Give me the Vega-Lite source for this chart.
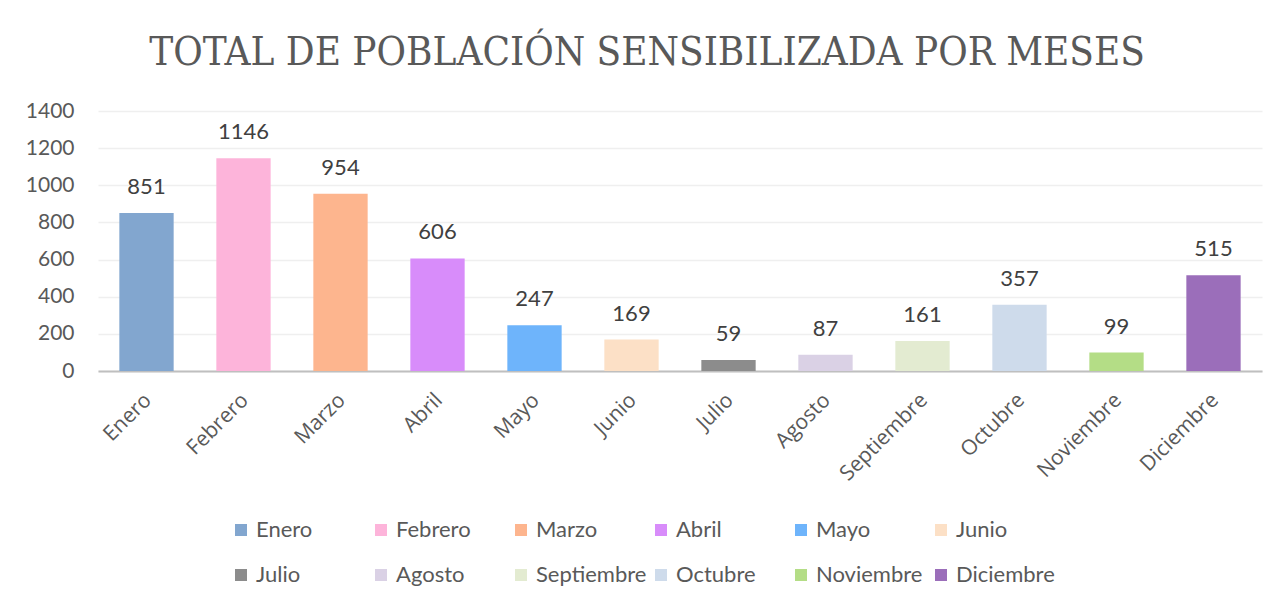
{
  "$schema": "https://vega.github.io/schema/vega-lite/v6.json",
  "width": 1164,
  "height": 260,
  "autosize": {"type": "none"},
  "padding": {"left": 98, "top": 111, "right": 26, "bottom": 235},
  "background": "white",
  "title": {
    "text": "TOTAL DE POBLACIÓN SENSIBILIZADA POR MESES",
    "font": "DejaVu Serif Condensed",
    "fontSize": 40,
    "fontWeight": "normal",
    "color": "#595959",
    "anchor": "middle",
    "frame": "group",
    "dx": -33,
    "offset": 27
  },
  "data": {
    "values": [
      {"mes": "Enero", "total": 851},
      {"mes": "Febrero", "total": 1146},
      {"mes": "Marzo", "total": 954},
      {"mes": "Abril", "total": 606},
      {"mes": "Mayo", "total": 247},
      {"mes": "Junio", "total": 169},
      {"mes": "Julio", "total": 59},
      {"mes": "Agosto", "total": 87},
      {"mes": "Septiembre", "total": 161},
      {"mes": "Octubre", "total": 357},
      {"mes": "Noviembre", "total": 99},
      {"mes": "Diciembre", "total": 515}
    ]
  },
  "encoding": {
    "x": {
      "field": "mes",
      "type": "nominal",
      "sort": null,
      "title": null,
      "scale": {"paddingInner": 0.44, "paddingOuter": 0.22},
      "axis": {
        "labelAngle": -45,
        "labelFont": "Open Sans",
        "labelFontSize": 21,
        "labelColor": "#595959",
        "labelPadding": 18,
        "labelOffset": -6,
        "ticks": false,
        "domainColor": "#bfbfbf",
        "domainWidth": 2,
        "grid": false
      }
    },
    "y": {
      "field": "total",
      "type": "quantitative",
      "title": null,
      "scale": {"domain": [0, 1400]},
      "axis": {
        "values": [0, 200, 400, 600, 800, 1000, 1200, 1400],
        "format": "d",
        "labelFont": "Lato",
        "labelFontSize": 21,
        "labelColor": "#595959",
        "labelPadding": 24,
        "ticks": false,
        "domain": false,
        "grid": true,
        "gridColor": "#efefef",
        "gridWidth": 1.5
      }
    }
  },
  "layer": [
    {
      "mark": {"type": "bar"},
      "encoding": {
        "color": {
          "field": "mes",
          "type": "nominal",
          "sort": null,
          "scale": {
            "domain": ["Enero", "Febrero", "Marzo", "Abril", "Mayo", "Junio", "Julio", "Agosto", "Septiembre", "Octubre", "Noviembre", "Diciembre"],
            "range": ["#82A6CF", "#FDB4DA", "#FDB58E", "#D88CFA", "#6EB4FB", "#FCE0C6", "#8C8C8C", "#DAD1E5", "#E3EBD1", "#CEDBEB", "#B4DD86", "#9B6EBA"]
          },
          "legend": {
            "title": null,
            "orient": "none",
            "legendX": 132,
            "legendY": 408,
            "direction": "horizontal",
            "columns": 6,
            "gridAlign": "all",
            "columnPadding": 3,
            "rowPadding": 23,
            "symbolType": "square",
            "symbolSize": 144,
            "symbolStrokeWidth": 0,
            "labelFont": "Lato",
            "labelFontSize": 22,
            "labelColor": "#595959",
            "labelOffset": 4,
            "labelLimit": 300,
            "padding": 0
          }
        }
      }
    },
    {
      "mark": {"type": "text", "baseline": "bottom", "dy": -14, "font": "Lato", "fontSize": 22, "color": "#404040"},
      "encoding": {
        "text": {"field": "total", "type": "quantitative"}
      }
    }
  ],
  "config": {"view": {"stroke": null}}
}
